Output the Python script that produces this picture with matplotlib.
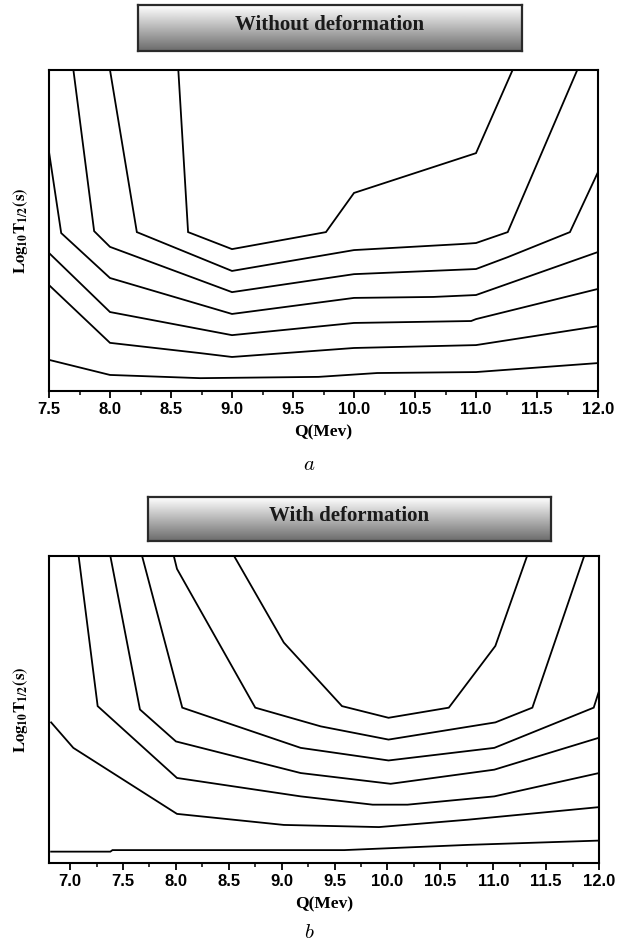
import numpy as np
import matplotlib
matplotlib.use('Agg')
import matplotlib.pyplot as plt
from matplotlib.ticker import MultipleLocator

plt.rcParams['mathtext.fontset'] = 'stix'

# ── Data: contour polylines (Q in MeV, log T in arbitrary axis units 0..1) ──
# Panel a: without deformation
a_q1 = [8.56, 8.64, 9.0, 9.77, 10.0, 11.0, 11.3]
a_y1 = [1.0, 0.495, 0.442, 0.495, 0.617, 0.741, 1.0]
a_q2 = [8.0, 8.22, 9.0, 10.0, 10.89, 11.0, 11.26, 11.83]
a_y2 = [1.0, 0.495, 0.374, 0.439, 0.458, 0.461, 0.495, 1.0]
a_q3 = [7.70, 7.87, 8.0, 9.0, 10.0, 11.0, 11.26, 11.77, 12.0]
a_y3 = [1.0, 0.498, 0.449, 0.308, 0.364, 0.380, 0.417, 0.495, 0.682]
a_q4 = [7.5, 7.6, 8.0, 9.0, 10.0, 10.65, 11.0, 12.0]
a_y4 = [0.745, 0.492, 0.352, 0.240, 0.290, 0.293, 0.299, 0.433]
a_q5 = [7.5, 8.0, 9.0, 10.0, 10.96, 11.0, 12.0]
a_y5 = [0.430, 0.246, 0.174, 0.212, 0.218, 0.224, 0.318]
a_q6 = [7.5, 8.0, 8.74, 9.0, 10.0, 11.0, 12.0]
a_y6 = [0.330, 0.150, 0.118, 0.106, 0.134, 0.143, 0.202]
a_q7 = [7.5, 8.0, 8.74, 9.71, 10.19, 11.0, 12.0]
a_y7 = [0.097, 0.050, 0.040, 0.044, 0.056, 0.059, 0.087]

# Panel b: with deformation
b_q1 = [7.08, 7.26, 8.01, 9.18, 9.86, 10.19, 11.01, 12.0]
b_y1 = [1.0, 0.511, 0.277, 0.217, 0.190, 0.190, 0.217, 0.293]
b_q2 = [7.38, 7.66, 8.0, 9.18, 10.03, 11.01, 12.0]
b_y2 = [1.0, 0.500, 0.396, 0.293, 0.258, 0.304, 0.408]
b_q3 = [7.68, 8.06, 9.18, 10.01, 11.01, 11.95, 12.0]
b_y3 = [1.0, 0.506, 0.375, 0.334, 0.375, 0.506, 0.560]
b_q4 = [7.98, 8.01, 8.75, 9.37, 10.01, 11.02, 11.37, 11.86]
b_y4 = [1.0, 0.958, 0.506, 0.445, 0.402, 0.458, 0.506, 1.0]
b_q5 = [8.55, 9.02, 9.57, 10.01, 10.58, 11.02, 11.32]
b_y5 = [1.0, 0.718, 0.511, 0.473, 0.506, 0.707, 1.0]
b_q6 = [6.82, 7.03, 8.01, 9.02, 9.92, 10.76, 12.0]
b_y6 = [0.458, 0.375, 0.160, 0.124, 0.117, 0.141, 0.182]
b_q7 = [6.82, 7.38, 7.40, 9.59, 10.76, 12.0]
b_y7 = [0.037, 0.037, 0.042, 0.042, 0.059, 0.073]

lines_a = [(a_q1, a_y1), (a_q2, a_y2), (a_q3, a_y3), (a_q4, a_y4),
           (a_q5, a_y5), (a_q6, a_y6), (a_q7, a_y7)]
lines_b = [(b_q1, b_y1), (b_q2, b_y2), (b_q3, b_y3), (b_q4, b_y4),
           (b_q5, b_y5), (b_q6, b_y6), (b_q7, b_y7)]

ticks_a = [7.5, 8.0, 8.5, 9.0, 9.5, 10.0, 10.5, 11.0, 11.5, 12.0]
ticks_b = [7.0, 7.5, 8.0, 8.5, 9.0, 9.5, 10.0, 10.5, 11.0, 11.5, 12.0]

W, H = 617, 942
fig = plt.figure(figsize=(W / 100, H / 100), dpi=100)
fig.patch.set_facecolor('white')


def fax(x0, y0, x1, y1):
    # pixel box (top-left origin) -> figure axes
    return fig.add_axes([x0 / W, 1 - y1 / H, (x1 - x0) / W, (y1 - y0) / H])


def title_box(x0, y0, x1, y1, text):
    bx = fax(x0, y0, x1, y1)
    grad = np.linspace(1.0, 0.42, 100).reshape(-1, 1)
    bx.imshow(grad, cmap='gray', vmin=0, vmax=1, aspect='auto',
              extent=(0, 1, 0, 1), origin='upper')
    bx.set_xlim(0, 1)
    bx.set_ylim(0, 1)
    bx.set_xticks([])
    bx.set_yticks([])
    for s in bx.spines.values():
        s.set_linewidth(1.6)
        s.set_color('#2a2a2a')
    bx.text(0.5, 0.56, text, ha='center', va='center', fontsize=15,
            fontweight='bold', family='Liberation Serif', color='#1a1a1a')


def panel(x0, y0, x1, y1, lines, xlim, ticks, letter, letter_y):
    ax = fax(x0, y0, x1, y1)
    for q, y in lines:
        ax.plot(q, y, color='black', lw=1.3, solid_joinstyle='miter')
    ax.set_xlim(*xlim)
    ax.set_ylim(0, 1)
    ax.set_yticks([])
    ax.set_xticks(ticks)
    ax.set_xticklabels([f'{t:.1f}' for t in ticks], fontsize=12,
                       fontweight='bold', family='Liberation Sans')
    ax.xaxis.set_minor_locator(MultipleLocator(0.25))
    ax.tick_params(axis='x', which='major', direction='out', length=5,
                   width=1.3, pad=3)
    ax.tick_params(axis='x', which='minor', direction='out', length=3,
                   width=1.1)
    for s in ax.spines.values():
        s.set_linewidth(1.5)
    ax.set_xlabel('Q(Mev)', fontsize=12.5, fontweight='bold',
                  family='Liberation Serif', labelpad=5)
    ax.set_ylabel(r'$\mathbf{Log_{10}T_{1/2}(s)}$', fontsize=12, labelpad=14)
    fig.text(0.5, 1 - letter_y / H, letter, ha='center', va='center',
             fontsize=15, family='cmmi10')
    return ax


title_box(138, 5, 522, 51, 'Without deformation')
panel(49, 70, 598, 391, lines_a, (7.5, 12.0), ticks_a, 'a', 465)

title_box(148, 497, 551, 541, 'With deformation')
panel(49, 556, 599, 863, lines_b, (6.8, 12.0), ticks_b, 'b', 933)

fig.savefig('out.png', dpi=100, facecolor='white')
